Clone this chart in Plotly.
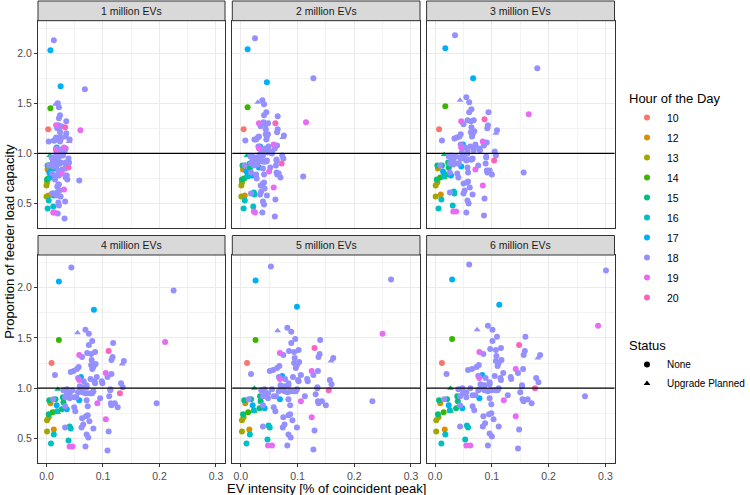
import plotly.graph_objects as go

PANEL_TITLES = ["1 million EVs", "2 million EVs", "3 million EVs",
                "4 million EVs", "5 million EVs", "6 million EVs"]
HOUR_LEVELS = [10, 12, 13, 14, 15, 16, 17, 18, 19, 20]
HOUR_COLORS = ["#F8766D", "#D89000", "#A3A500", "#39B600", "#00BF7D",
               "#00BFC4", "#00B0F6", "#9590FF", "#E76BF3", "#FF62BC"]
STATUS_CODES = {"N": "None", "U": "Upgrade Planned"}
STATUS_SYMBOLS = {"N": "circle", "U": "triangle-up"}
X_TICKS = [0.0, 0.1, 0.2, 0.3]
X_TICK_LABELS = ["0.0", "0.1", "0.2", "0.3"]
Y_TICKS = [0.5, 1.0, 1.5, 2.0]
Y_TICK_LABELS = ["0.5", "1.0", "1.5", "2.0"]
CAPACITY_LINE = 1.0

HOURS = [18, 17, 17, 18, 18, 18, 18, 18, 14, 20,
         18, 18, 18, 18, 18, 18, 19, 18, 18, 18,
         18, 18, 18, 18, 18, 10, 18, 18, 18, 18,
         19, 18, 18, 18, 18, 18, 17, 18, 18, 18,
         18, 18, 18, 18, 18, 19, 18, 18, 18, 18,
         18, 20, 15, 18, 18, 18, 18, 18, 18, 18,
         18, 18, 19, 18, 18, 18, 18, 18, 18, 18,
         18, 18, 18, 18, 18, 18, 18, 18, 15, 15,
         12, 17, 15, 15, 15, 16, 14, 18, 17, 18,
         18, 17, 18, 14, 15, 13, 13, 19, 18, 18,
         18, 18, 18, 16, 16, 18, 18, 18, 18, 12,
         13, 16, 18, 18, 16, 16, 19, 19, 18, 18,
         18, 19, 18, 18, 18]

STATUS = list("NNNUNNNNNN" "NNNNNNNNNN" "NNNNUNNNNN" "NNNNNNNNNN" "NNNNNNNNNN"
              "NNUNNNNNNN" "NNNNNNNNNN" "NNNNNNNNNN" "NNNNNNUNNN" "NNNNNNNNNN"
              "NNNNNNNNNN" "NNNNNNNNNN" "NNNNN")

X1 = [0.013, 0.007, 0.025, 0.016, 0.020, 0.022, 0.024, 0.035, 0.007, 0.033,
      0.022, 0.021, 0.024, 0.026, 0.035, 0.034, 0.017, 0.019, 0.024, 0.026,
      0.024, 0.025, 0.024, 0.041, 0.040, 0.003, 0.017, 0.016, 0.014, 0.013,
      0.031, 0.034, 0.032, 0.026, 0.004, 0.017, 0.018, 0.020, 0.023, 0.025,
      0.026, 0.029, 0.029, 0.039, 0.040, 0.017, 0.018, 0.021, 0.021, 0.019,
      0.034, 0.039, 0.006, 0.011, 0.014, 0.017, 0.020, 0.022, 0.023, 0.025,
      0.024, 0.028, 0.027, 0.033, 0.034, 0.036, 0.037, 0.009, 0.011, 0.012,
      0.010, 0.012, 0.015, 0.016, 0.017, 0.019, 0.021, 0.004, 0.005, 0.002,
      0.002, 0.005, 0.009, 0.009, 0.008, 0.006, 0.006, 0.010, 0.011, 0.015,
      0.015, 0.017, 0.022, 0.003, 0.001, 0.001, 0.000, 0.031, 0.019, 0.021,
      0.022, 0.023, 0.010, 0.012, 0.013, 0.018, 0.019, 0.025, 0.033, 0.004,
      0.000, 0.004, 0.021, 0.022, 0.012, 0.002, 0.012, 0.014, 0.020, 0.032,
      0.068, 0.060, 0.058, 0.034, 0.034]
Y1 = [2.13, 2.03, 1.67, 1.49, 1.50, 1.46, 1.38, 1.32, 1.45, 1.26,
      1.35, 1.28, 1.26, 1.27, 1.20, 1.17, 1.28, 1.25, 1.21, 1.16,
      1.16, 1.14, 1.12, 1.14, 1.12, 1.24, 1.16, 1.14, 1.13, 1.13,
      1.06, 1.05, 1.02, 1.04, 1.12, 1.05, 1.06, 1.02, 1.03, 1.00,
      0.98, 0.99, 0.98, 0.95, 0.91, 1.03, 0.98, 0.98, 0.96, 0.96,
      0.90, 0.86, 0.98, 0.96, 0.95, 0.93, 0.90, 0.90, 0.90, 0.91,
      0.90, 0.84, 0.80, 0.85, 0.78, 0.78, 0.74, 0.96, 0.91, 0.92,
      0.89, 0.87, 0.88, 0.88, 0.92, 0.91, 0.83, 0.88, 0.88, 0.88,
      0.84, 0.81, 0.89, 0.84, 0.78, 0.76, 0.75, 0.80, 0.77, 0.78,
      0.74, 0.85, 0.78, 0.75, 0.74, 0.71, 0.68, 0.64, 0.67, 0.69,
      0.69, 0.63, 0.60, 0.60, 0.58, 0.58, 0.61, 0.57, 0.52, 0.58,
      0.57, 0.53, 0.51, 0.48, 0.47, 0.45, 0.41, 0.41, 0.40, 0.35,
      1.64, 1.23, 0.73, 0.91, 0.76]

X2 = [0.025, 0.012, 0.046, 0.030, 0.038, 0.041, 0.045, 0.065, 0.012, 0.061,
      0.041, 0.040, 0.044, 0.048, 0.065, 0.064, 0.032, 0.035, 0.044, 0.048,
      0.044, 0.046, 0.045, 0.076, 0.074, 0.005, 0.032, 0.030, 0.027, 0.024,
      0.058, 0.064, 0.060, 0.049, 0.008, 0.031, 0.034, 0.036, 0.043, 0.047,
      0.048, 0.055, 0.055, 0.073, 0.075, 0.032, 0.033, 0.039, 0.039, 0.036,
      0.063, 0.072, 0.011, 0.020, 0.025, 0.032, 0.038, 0.041, 0.043, 0.046,
      0.045, 0.052, 0.050, 0.062, 0.063, 0.067, 0.070, 0.017, 0.020, 0.023,
      0.018, 0.023, 0.027, 0.029, 0.031, 0.036, 0.039, 0.007, 0.009, 0.003,
      0.004, 0.010, 0.016, 0.016, 0.015, 0.011, 0.011, 0.018, 0.020, 0.027,
      0.028, 0.032, 0.041, 0.006, 0.002, 0.002, 0.001, 0.058, 0.035, 0.039,
      0.041, 0.042, 0.018, 0.023, 0.024, 0.034, 0.036, 0.046, 0.061, 0.007,
      0.001, 0.007, 0.039, 0.041, 0.022, 0.005, 0.023, 0.025, 0.038, 0.060,
      0.128, 0.115, 0.110, 0.063, 0.064]
Y2 = [2.15, 2.04, 1.71, 1.51, 1.53, 1.49, 1.41, 1.37, 1.46, 1.30,
      1.38, 1.31, 1.29, 1.30, 1.24, 1.21, 1.30, 1.27, 1.24, 1.19,
      1.19, 1.17, 1.14, 1.18, 1.16, 1.24, 1.17, 1.16, 1.14, 1.14,
      1.09, 1.08, 1.05, 1.07, 1.13, 1.07, 1.07, 1.04, 1.05, 1.03,
      1.01, 1.02, 1.00, 0.98, 0.95, 1.05, 0.99, 1.00, 0.98, 0.98,
      0.93, 0.90, 0.98, 0.97, 0.96, 0.94, 0.92, 0.92, 0.92, 0.93,
      0.92, 0.86, 0.82, 0.88, 0.81, 0.80, 0.76, 0.97, 0.92, 0.93,
      0.90, 0.88, 0.89, 0.89, 0.94, 0.93, 0.85, 0.88, 0.88, 0.88,
      0.84, 0.82, 0.90, 0.85, 0.78, 0.77, 0.76, 0.81, 0.78, 0.79,
      0.75, 0.86, 0.79, 0.75, 0.74, 0.71, 0.68, 0.66, 0.68, 0.70,
      0.71, 0.65, 0.60, 0.61, 0.59, 0.59, 0.62, 0.58, 0.54, 0.58,
      0.57, 0.53, 0.52, 0.49, 0.47, 0.45, 0.42, 0.41, 0.41, 0.37,
      1.75, 1.31, 0.77, 0.94, 0.79]

X3 = [0.035, 0.018, 0.067, 0.044, 0.055, 0.060, 0.064, 0.094, 0.018, 0.087,
      0.060, 0.057, 0.063, 0.068, 0.093, 0.092, 0.046, 0.050, 0.064, 0.069,
      0.063, 0.066, 0.065, 0.109, 0.107, 0.007, 0.045, 0.043, 0.038, 0.034,
      0.084, 0.091, 0.086, 0.071, 0.012, 0.045, 0.049, 0.053, 0.062, 0.068,
      0.068, 0.078, 0.079, 0.105, 0.107, 0.046, 0.047, 0.057, 0.057, 0.051,
      0.090, 0.104, 0.016, 0.028, 0.037, 0.046, 0.055, 0.058, 0.063, 0.066,
      0.065, 0.076, 0.071, 0.089, 0.091, 0.096, 0.100, 0.024, 0.029, 0.032,
      0.026, 0.032, 0.039, 0.042, 0.045, 0.051, 0.057, 0.009, 0.012, 0.004,
      0.005, 0.014, 0.023, 0.024, 0.022, 0.015, 0.016, 0.026, 0.028, 0.039,
      0.041, 0.046, 0.058, 0.009, 0.003, 0.004, 0.001, 0.084, 0.050, 0.056,
      0.058, 0.061, 0.026, 0.033, 0.034, 0.050, 0.052, 0.066, 0.087, 0.010,
      0.001, 0.011, 0.057, 0.059, 0.031, 0.006, 0.032, 0.037, 0.055, 0.086,
      0.180, 0.165, 0.156, 0.090, 0.092]
Y3 = [2.18, 2.05, 1.75, 1.53, 1.56, 1.51, 1.44, 1.41, 1.47, 1.34,
      1.41, 1.33, 1.32, 1.33, 1.28, 1.25, 1.32, 1.29, 1.26, 1.22,
      1.21, 1.19, 1.17, 1.23, 1.20, 1.24, 1.19, 1.17, 1.16, 1.15,
      1.12, 1.11, 1.08, 1.09, 1.13, 1.09, 1.09, 1.06, 1.07, 1.05,
      1.03, 1.05, 1.03, 1.02, 0.98, 1.06, 1.01, 1.02, 1.00, 0.99,
      0.96, 0.93, 0.99, 0.98, 0.97, 0.96, 0.93, 0.94, 0.94, 0.95,
      0.94, 0.88, 0.84, 0.90, 0.83, 0.83, 0.79, 0.97, 0.93, 0.94,
      0.90, 0.89, 0.90, 0.90, 0.95, 0.95, 0.86, 0.88, 0.88, 0.88,
      0.85, 0.82, 0.91, 0.86, 0.79, 0.77, 0.76, 0.81, 0.78, 0.80,
      0.76, 0.87, 0.81, 0.76, 0.74, 0.71, 0.68, 0.68, 0.70, 0.71,
      0.72, 0.66, 0.61, 0.62, 0.60, 0.60, 0.63, 0.59, 0.55, 0.59,
      0.57, 0.54, 0.53, 0.50, 0.48, 0.45, 0.42, 0.42, 0.41, 0.38,
      1.85, 1.39, 0.81, 0.97, 0.81]

X4 = [0.044, 0.022, 0.084, 0.055, 0.069, 0.075, 0.081, 0.118, 0.022, 0.110,
      0.075, 0.072, 0.079, 0.086, 0.117, 0.115, 0.058, 0.063, 0.080, 0.087,
      0.079, 0.083, 0.081, 0.137, 0.134, 0.009, 0.057, 0.054, 0.048, 0.043,
      0.105, 0.115, 0.108, 0.089, 0.015, 0.056, 0.061, 0.066, 0.078, 0.085,
      0.086, 0.098, 0.099, 0.132, 0.135, 0.058, 0.059, 0.071, 0.071, 0.064,
      0.113, 0.130, 0.020, 0.036, 0.046, 0.058, 0.069, 0.073, 0.078, 0.083,
      0.081, 0.095, 0.090, 0.111, 0.114, 0.121, 0.126, 0.030, 0.036, 0.041,
      0.033, 0.041, 0.049, 0.053, 0.056, 0.064, 0.071, 0.012, 0.016, 0.005,
      0.007, 0.018, 0.029, 0.030, 0.027, 0.019, 0.020, 0.033, 0.036, 0.049,
      0.051, 0.058, 0.073, 0.011, 0.004, 0.004, 0.001, 0.105, 0.063, 0.070,
      0.073, 0.076, 0.033, 0.041, 0.043, 0.062, 0.065, 0.083, 0.110, 0.013,
      0.001, 0.013, 0.071, 0.074, 0.039, 0.008, 0.041, 0.046, 0.069, 0.108,
      0.225, 0.210, 0.195, 0.113, 0.115]
Y4 = [2.20, 2.06, 1.78, 1.55, 1.58, 1.54, 1.47, 1.45, 1.48, 1.37,
      1.43, 1.35, 1.34, 1.36, 1.31, 1.28, 1.33, 1.31, 1.28, 1.24,
      1.23, 1.21, 1.19, 1.27, 1.24, 1.25, 1.21, 1.19, 1.17, 1.16,
      1.15, 1.14, 1.11, 1.11, 1.13, 1.10, 1.11, 1.07, 1.09, 1.07,
      1.05, 1.07, 1.05, 1.05, 1.01, 1.08, 1.02, 1.03, 1.01, 1.01,
      0.98, 0.95, 0.99, 0.99, 0.98, 0.97, 0.95, 0.95, 0.95, 0.97,
      0.95, 0.90, 0.85, 0.92, 0.85, 0.85, 0.81, 0.98, 0.94, 0.95,
      0.91, 0.90, 0.91, 0.91, 0.96, 0.96, 0.88, 0.89, 0.89, 0.88,
      0.85, 0.83, 0.91, 0.86, 0.79, 0.77, 0.76, 0.82, 0.79, 0.81,
      0.77, 0.88, 0.82, 0.76, 0.74, 0.71, 0.68, 0.69, 0.70, 0.72,
      0.73, 0.67, 0.61, 0.62, 0.60, 0.61, 0.64, 0.60, 0.57, 0.59,
      0.57, 0.54, 0.54, 0.51, 0.48, 0.45, 0.42, 0.42, 0.42, 0.38,
      1.97, 1.46, 0.85, 0.99, 0.83]

X5 = [0.053, 0.026, 0.099, 0.065, 0.082, 0.089, 0.096, 0.140, 0.026, 0.130,
      0.089, 0.085, 0.094, 0.102, 0.139, 0.137, 0.069, 0.075, 0.095, 0.103,
      0.094, 0.099, 0.097, 0.163, 0.159, 0.011, 0.068, 0.064, 0.057, 0.051,
      0.125, 0.136, 0.128, 0.106, 0.018, 0.067, 0.073, 0.078, 0.092, 0.101,
      0.102, 0.117, 0.118, 0.157, 0.160, 0.069, 0.070, 0.084, 0.084, 0.077,
      0.135, 0.155, 0.024, 0.042, 0.055, 0.069, 0.082, 0.087, 0.093, 0.099,
      0.097, 0.113, 0.106, 0.132, 0.136, 0.143, 0.150, 0.036, 0.043, 0.048,
      0.039, 0.048, 0.058, 0.062, 0.067, 0.077, 0.084, 0.014, 0.018, 0.006,
      0.008, 0.021, 0.034, 0.035, 0.033, 0.023, 0.024, 0.039, 0.042, 0.058,
      0.061, 0.069, 0.087, 0.013, 0.004, 0.005, 0.002, 0.125, 0.075, 0.084,
      0.087, 0.091, 0.039, 0.049, 0.051, 0.074, 0.077, 0.099, 0.130, 0.015,
      0.002, 0.016, 0.084, 0.088, 0.047, 0.010, 0.048, 0.055, 0.082, 0.128,
      0.265, 0.250, 0.232, 0.135, 0.137]
Y5 = [2.21, 2.07, 1.81, 1.57, 1.60, 1.56, 1.49, 1.48, 1.48, 1.40,
      1.45, 1.37, 1.36, 1.38, 1.34, 1.31, 1.35, 1.33, 1.30, 1.26,
      1.25, 1.23, 1.20, 1.30, 1.27, 1.25, 1.22, 1.20, 1.18, 1.17,
      1.17, 1.17, 1.13, 1.13, 1.14, 1.11, 1.12, 1.09, 1.11, 1.08,
      1.07, 1.09, 1.07, 1.08, 1.04, 1.09, 1.03, 1.05, 1.03, 1.02,
      1.00, 0.98, 1.00, 0.99, 0.99, 0.98, 0.96, 0.97, 0.97, 0.99,
      0.97, 0.92, 0.87, 0.94, 0.87, 0.87, 0.83, 0.98, 0.94, 0.95,
      0.92, 0.90, 0.92, 0.92, 0.97, 0.97, 0.89, 0.89, 0.89, 0.88,
      0.85, 0.83, 0.92, 0.87, 0.80, 0.78, 0.77, 0.83, 0.80, 0.81,
      0.77, 0.89, 0.83, 0.76, 0.74, 0.71, 0.68, 0.71, 0.71, 0.73,
      0.74, 0.68, 0.62, 0.63, 0.61, 0.61, 0.64, 0.61, 0.58, 0.59,
      0.57, 0.54, 0.54, 0.51, 0.49, 0.45, 0.43, 0.43, 0.43, 0.39,
      2.08, 1.54, 0.87, 1.01, 0.85]

X6 = [0.060, 0.030, 0.113, 0.074, 0.093, 0.101, 0.109, 0.159, 0.030, 0.148,
      0.101, 0.097, 0.107, 0.116, 0.158, 0.156, 0.078, 0.085, 0.108, 0.117,
      0.107, 0.112, 0.110, 0.185, 0.181, 0.012, 0.077, 0.073, 0.065, 0.058,
      0.142, 0.155, 0.146, 0.120, 0.020, 0.076, 0.083, 0.089, 0.105, 0.115,
      0.116, 0.133, 0.134, 0.178, 0.182, 0.078, 0.080, 0.096, 0.096, 0.087,
      0.153, 0.176, 0.027, 0.048, 0.062, 0.078, 0.093, 0.099, 0.106, 0.112,
      0.110, 0.128, 0.121, 0.150, 0.154, 0.163, 0.170, 0.041, 0.049, 0.055,
      0.044, 0.055, 0.066, 0.071, 0.076, 0.087, 0.096, 0.016, 0.021, 0.007,
      0.009, 0.024, 0.039, 0.040, 0.037, 0.026, 0.027, 0.044, 0.048, 0.066,
      0.069, 0.078, 0.099, 0.015, 0.005, 0.006, 0.002, 0.142, 0.085, 0.095,
      0.099, 0.103, 0.044, 0.056, 0.058, 0.084, 0.088, 0.112, 0.148, 0.017,
      0.002, 0.018, 0.096, 0.100, 0.053, 0.011, 0.055, 0.062, 0.093, 0.146,
      0.301, 0.287, 0.264, 0.153, 0.156]
Y6 = [2.23, 2.08, 1.83, 1.58, 1.62, 1.58, 1.51, 1.51, 1.49, 1.43,
      1.47, 1.39, 1.38, 1.40, 1.37, 1.33, 1.36, 1.34, 1.32, 1.28,
      1.27, 1.25, 1.22, 1.33, 1.30, 1.25, 1.23, 1.21, 1.19, 1.18,
      1.19, 1.19, 1.15, 1.15, 1.14, 1.12, 1.13, 1.10, 1.12, 1.10,
      1.08, 1.11, 1.09, 1.10, 1.06, 1.10, 1.04, 1.06, 1.04, 1.03,
      1.02, 1.00, 1.00, 1.00, 1.00, 0.99, 0.97, 0.98, 0.98, 1.00,
      0.98, 0.93, 0.88, 0.96, 0.89, 0.89, 0.85, 0.99, 0.95, 0.96,
      0.92, 0.91, 0.93, 0.93, 0.98, 0.98, 0.90, 0.89, 0.89, 0.88,
      0.85, 0.83, 0.92, 0.87, 0.80, 0.78, 0.77, 0.83, 0.80, 0.82,
      0.78, 0.90, 0.84, 0.76, 0.74, 0.71, 0.68, 0.72, 0.72, 0.74,
      0.75, 0.69, 0.62, 0.63, 0.61, 0.62, 0.65, 0.62, 0.59, 0.59,
      0.57, 0.54, 0.55, 0.52, 0.49, 0.45, 0.43, 0.43, 0.43, 0.40,
      2.17, 1.62, 0.92, 1.03, 0.87]

X_BY_PANEL = [X1, X2, X3, X4, X5, X6]
Y_BY_PANEL = [Y1, Y2, Y3, Y4, Y5, Y6]

# ---------------- layout geometry ----------------
W, H = 750, 495
ML, MR, MT, MB = 38, 135, 1, 32
PW, PH = W - ML - MR, H - MT - MB


def px_x(p):
    return (p - ML) / PW


def px_y(p):
    return (H - MB - p) / PH


COL_DOM = [(px_x(38), px_x(225)), (px_x(232.3), px_x(420)), (px_x(426.6), px_x(614.5))]
ROW_DOM = [(px_y(228), px_y(20.7)), (px_y(463), px_y(255))]
STRIP = [(px_y(20.7), px_y(1)), (px_y(255), px_y(235.5))]

X_RANGE = [-0.015, 0.316]
Y_RANGE = [0.256, 2.324]

TEXT_COL = "#4D4D4D"
FONT = "Liberation Sans, Arial, sans-serif"

fig = go.Figure()

for p in range(6):
    sfx = "" if p == 0 else str(p + 1)
    xs, ys = X_BY_PANEL[p], Y_BY_PANEL[p]
    for h, col in zip(HOUR_LEVELS, HOUR_COLORS):
        idx = [i for i, hh in enumerate(HOURS) if hh == h]
        fig.add_trace(go.Scatter(
            x=[xs[i] for i in idx], y=[ys[i] for i in idx],
            mode="markers", xaxis="x" + sfx, yaxis="y" + sfx,
            marker=dict(color=col, size=6,
                        symbol=[STATUS_SYMBOLS[STATUS[i]] for i in idx],
                        line=dict(width=0)),
            showlegend=False, hoverinfo="x+y"))

# legend entries: hour of day
for h, col in zip(HOUR_LEVELS, HOUR_COLORS):
    fig.add_trace(go.Scatter(
        x=[None], y=[None], mode="markers", name=str(h),
        marker=dict(color=col, size=6, symbol="circle"),
        legend="legend", legendgroup=str(h), showlegend=True))
# legend entries: status
for code in ["N", "U"]:
    fig.add_trace(go.Scatter(
        x=[None], y=[None], mode="markers", name=STATUS_CODES[code],
        marker=dict(color="black", size=6, symbol=STATUS_SYMBOLS[code]),
        legend="legend2", legendgroup="s" + code, showlegend=True))

layout = dict(
    width=W, height=H,
    margin=dict(l=ML, r=MR, t=MT, b=MB, pad=0, autoexpand=False),
    paper_bgcolor="white", plot_bgcolor="white",
    font=dict(family=FONT, color="black", size=11),
    legend=dict(
        title=dict(text="Hour of the Day", font=dict(size=13, color="black")),
        x=px_x(627), xanchor="left", y=px_y(86), yanchor="top",
        font=dict(size=10.5, color="black"), tracegroupgap=1,
        bgcolor="rgba(0,0,0,0)", itemclick=False, itemdoubleclick=False),
    legend2=dict(
        title=dict(text="Status", font=dict(size=13, color="black")),
        x=px_x(627), xanchor="left", y=px_y(333), yanchor="top",
        font=dict(size=10, color="black"), tracegroupgap=0,
        bgcolor="rgba(0,0,0,0)", itemclick=False, itemdoubleclick=False),
)

shapes = []
annotations = []
for p in range(6):
    r, c = divmod(p, 3)
    sfx = "" if p == 0 else str(p + 1)
    layout["xaxis" + sfx] = dict(
        domain=list(COL_DOM[c]), anchor="y" + sfx, range=X_RANGE,
        tickvals=X_TICKS, ticktext=X_TICK_LABELS,
        showticklabels=(r == 1), ticks="outside" if r == 1 else "",
        ticklen=3, tickwidth=1, tickcolor="#333333",
        tickfont=dict(size=10.5, color=TEXT_COL, family=FONT),
        showline=True, mirror=True, linecolor="#333333", linewidth=1,
        showgrid=True, gridcolor="#EBEBEB", gridwidth=1, zeroline=False,
        minor=dict(tickvals=[0.05, 0.15, 0.25], showgrid=True,
                   gridcolor="#F3F3F3", gridwidth=0.6, ticks=""),
        fixedrange=True, automargin=False)
    layout["yaxis" + sfx] = dict(
        domain=list(ROW_DOM[r]), anchor="x" + sfx, range=Y_RANGE,
        tickvals=Y_TICKS, ticktext=Y_TICK_LABELS,
        showticklabels=(c == 0), ticks="outside" if c == 0 else "",
        ticklen=3, tickwidth=1, tickcolor="#333333",
        tickfont=dict(size=10.5, color=TEXT_COL, family=FONT),
        showline=True, mirror=True, linecolor="#333333", linewidth=1,
        showgrid=True, gridcolor="#EBEBEB", gridwidth=1, zeroline=False,
        minor=dict(tickvals=[0.75, 1.25, 1.75, 2.25], showgrid=True,
                   gridcolor="#F3F3F3", gridwidth=0.6, ticks=""),
        fixedrange=True, automargin=False)
    # reference line at full capacity
    shapes.append(dict(type="line", xref="x" + sfx + " domain", yref="y" + sfx,
                       x0=0, x1=1, y0=CAPACITY_LINE, y1=CAPACITY_LINE,
                       line=dict(color="black", width=1.1), layer="above"))
    # facet strip
    shapes.append(dict(type="rect", xref="paper", yref="paper",
                       x0=COL_DOM[c][0], x1=COL_DOM[c][1],
                       y0=STRIP[r][1], y1=STRIP[r][0],
                       fillcolor="#D9D9D9", line=dict(color="#333333", width=1),
                       layer="above"))
    annotations.append(dict(text=PANEL_TITLES[p], xref="paper", yref="paper",
                            x=(COL_DOM[c][0] + COL_DOM[c][1]) / 2,
                            y=(STRIP[r][0] + STRIP[r][1]) / 2,
                            showarrow=False, xanchor="center", yanchor="middle",
                            font=dict(size=10.5, color="#1A1A1A", family=FONT)))

annotations.append(dict(text="EV intensity [% of coincident peak]",
                        xref="paper", yref="paper",
                        x=(COL_DOM[0][0] + COL_DOM[2][1]) / 2, y=px_y(488.5),
                        showarrow=False, xanchor="center", yanchor="middle",
                        font=dict(size=13, color="black", family=FONT)))
annotations.append(dict(text="Proportion of feeder load capacity",
                        xref="paper", yref="paper", textangle=-90,
                        x=px_x(10), y=(ROW_DOM[0][1] + ROW_DOM[1][0]) / 2,
                        showarrow=False, xanchor="center", yanchor="middle",
                        font=dict(size=13, color="black", family=FONT)))

layout["shapes"] = shapes
layout["annotations"] = annotations
fig.update_layout(**layout)

fig.write_html("out.html",
               config={"displayModeBar": False},
               post_script="document.body.style.margin='0';"
                           "document.body.style.overflow='hidden';")
